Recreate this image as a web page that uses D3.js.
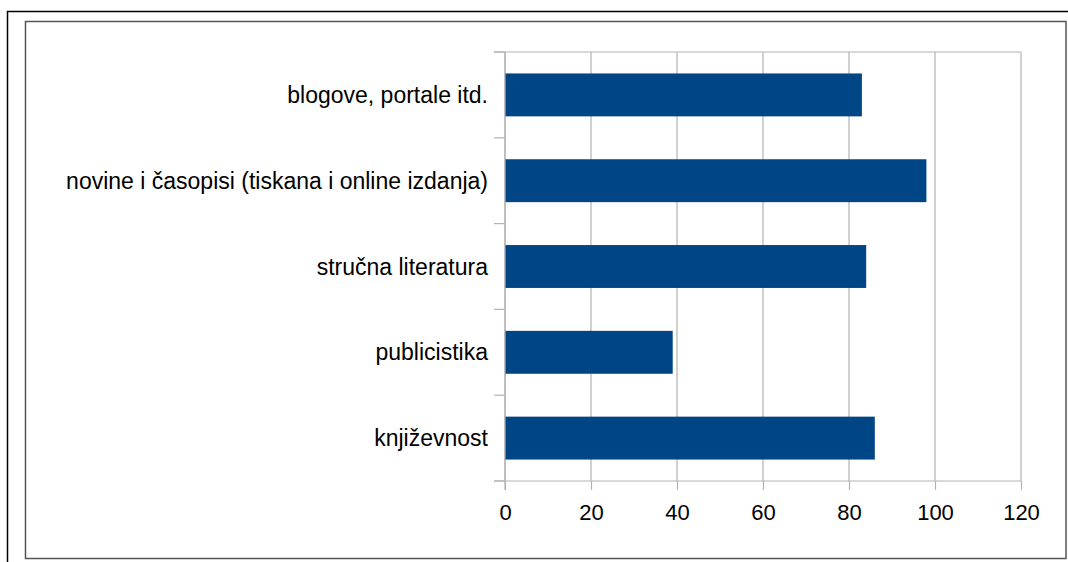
<!DOCTYPE html>
<html>
<head>
	<meta charset="UTF-8">
	<title>bar chart</title>
	<script src="https://cdn.jsdelivr.net/npm/d3@7"></script>
	<style>
		body { margin: 0; background: #fff; }
		text { font-family: "Liberation Sans", Arial, sans-serif; fill: #000; }
	</style>
</head>
<body>
	<script type="text/javascript">
		// data
		var categories = ["blogove, portale itd.", "novine i časopisi (tiskana i online izdanja)", "stručna literatura", "publicistika", "književnost"];
		var values = [83, 98, 84, 39, 86];
		var ticks = [0, 20, 40, 60, 80, 100, 120];

		var W = 1068, H = 562;
		var svg = d3.select("body").append("svg")
			.attr("width", W)
			.attr("height", H);

		// outer frame (black) and inner frame (grey)
		svg.append("path")
			.attr("d", "M7.5," + H + "V11.5H" + W)
			.attr("fill", "none")
			.attr("stroke", "#000")
			.attr("stroke-width", 1.5);
		svg.append("rect")
			.attr("x", 25.5).attr("y", 21.5)
			.attr("width", 1040.5).attr("height", 537)
			.attr("fill", "none")
			.attr("stroke", "#555")
			.attr("stroke-width", 1.5);

		var plotL = 505, plotR = 1021, plotT = 52, plotB = 481;

		var x = d3.scaleLinear().domain([0, 120]).range([plotL, plotR]);
		var y = d3.scaleBand().domain(categories).range([plotT, plotB]).paddingInner(0.5).paddingOuter(0.25);

		// vertical grid
		svg.append("g").selectAll("line")
			.data(ticks)
			.join("line")
			.attr("x1", function(d) { return x(d); })
			.attr("x2", function(d) { return x(d); })
			.attr("y1", plotT)
			.attr("y2", plotB)
			.attr("stroke", "#b3b3b3")
			.attr("stroke-width", 1.2);

		// top edge line of plot
		svg.append("line")
			.attr("x1", plotL - 11).attr("x2", plotR)
			.attr("y1", plotT).attr("y2", plotT)
			.attr("stroke", "#b3b3b3").attr("stroke-width", 1.2);

		// bars
		svg.append("g").selectAll("rect")
			.data(values)
			.join("rect")
			.attr("x", x(0))
			.attr("y", function(d, i) { return y(categories[i]); })
			.attr("width", function(d) { return x(d) - x(0); })
			.attr("height", y.bandwidth())
			.attr("fill", "#004586");

		// y axis: line, separator ticks, labels
		var step = (plotB - plotT) / categories.length;
		var yAxis = svg.append("g");
		yAxis.append("line")
			.attr("x1", plotL).attr("x2", plotL)
			.attr("y1", plotT).attr("y2", plotB + 9)
			.attr("stroke", "#b3b3b3").attr("stroke-width", 1.2);
		yAxis.selectAll("line.sep")
			.data(d3.range(categories.length + 1))
			.join("line")
			.attr("class", "sep")
			.attr("x1", plotL - 11).attr("x2", plotL)
			.attr("y1", function(i) { return plotT + i * step; })
			.attr("y2", function(i) { return plotT + i * step; })
			.attr("stroke", "#b3b3b3").attr("stroke-width", 1.2);
		yAxis.selectAll("text")
			.data(categories)
			.join("text")
			.attr("x", plotL - 17)
			.attr("y", function(d) { return y(d) + y.bandwidth() / 2; })
			.attr("dy", "0.35em")
			.attr("text-anchor", "end")
			.attr("font-size", 23)
			.text(function(d) { return d; });

		// x axis
		var xAxis = svg.append("g")
			.attr("transform", "translate(0," + plotB + ")")
			.call(d3.axisBottom(x).tickValues(ticks).tickSize(9).tickSizeOuter(0));
		xAxis.select(".domain").remove();
		xAxis.insert("line", ":first-child")
			.attr("x1", plotL - 11).attr("x2", plotR)
			.attr("stroke", "#b3b3b3").attr("stroke-width", 1.2);
		xAxis.selectAll(".tick line").attr("stroke", "#b3b3b3").attr("stroke-width", 1.2);
		xAxis.selectAll(".tick text")
			.attr("font-size", 22)
			.attr("font-family", "Liberation Sans, Arial, sans-serif")
			.attr("fill", "#000")
			.attr("y", 23);
	</script>
</body>
</html>
